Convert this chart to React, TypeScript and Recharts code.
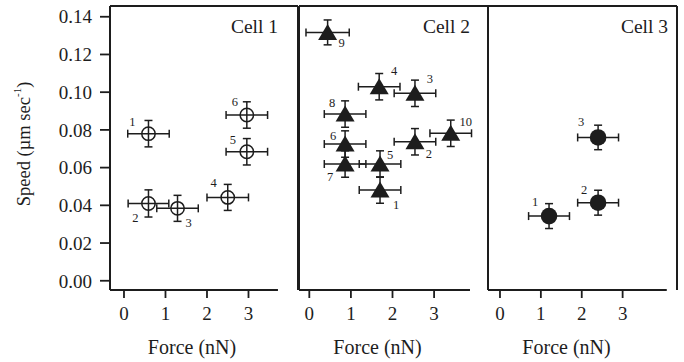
import React from 'react';
import { ScatterChart, Scatter, XAxis, YAxis, ErrorBar, ReferenceLine } from 'recharts';

const FONT = '"Liberation Serif", "Times New Roman", serif';
const INK = '#1d1d1d';

const SPEED_TICKS = [0, 0.02, 0.04, 0.06, 0.08, 0.1, 0.12, 0.14];
const FORCE_TICKS = [0, 1, 2, 3];
const Y_DOMAIN: [number, number] = [-0.0049, 0.1457];

// Cell 1 - open circles
const cell1Ids = ['1', '2', '3', '4', '5', '6'];
const cell1Force = [0.59, 0.59, 1.29, 2.5, 2.96, 2.96];
const cell1Speed = [0.078, 0.041, 0.0384, 0.0442, 0.0684, 0.0879];
const cell1ForceErr = [0.5, 0.49, 0.5, 0.5, 0.5, 0.5];
const cell1SpeedErr = [0.007, 0.0072, 0.0069, 0.0069, 0.007, 0.007];

// Cell 2 - filled triangles
const cell2Ids = ['1', '2', '3', '4', '5', '6', '7', '8', '9', '10'];
const cell2Force = [1.7, 2.54, 2.54, 1.68, 1.7, 0.86, 0.86, 0.86, 0.44, 3.4];
const cell2Speed = [0.0481, 0.0737, 0.0994, 0.1029, 0.0619, 0.0725, 0.0619, 0.0884, 0.1317, 0.0782];
const cell2ForceErr = [0.5, 0.5, 0.5, 0.5, 0.5, 0.5, 0.5, 0.5, 0.52, 0.5];
const cell2SpeedErr = [0.007, 0.007, 0.007, 0.007, 0.007, 0.007, 0.007, 0.007, 0.0066, 0.007];

// Cell 3 - filled circles
const cell3Ids = ['1', '2', '3'];
const cell3Force = [1.2, 2.4, 2.4];
const cell3Speed = [0.0343, 0.0414, 0.076];
const cell3ForceErr = [0.5, 0.5, 0.5];
const cell3SpeedErr = [0.0066, 0.0066, 0.0065];

// where each point's number sits relative to its marker (px)
const cell1LabelOffsets: [number, number][] = [[-16, -12], [-13, 15], [11, 15], [-14, -14], [-14, -12], [-12, -13]];
const cell2LabelOffsets: [number, number][] = [[16, 15], [14, 12], [15, -14], [15, -16], [10, -9], [-12, -8], [-15, 13], [-13, -11], [14, 11], [15, -11]];
const cell3LabelOffsets: [number, number][] = [[-14, -14], [-14, -13], [-17, -15]];

type Pt = { id: string; force: number; speed: number; fErr: number; sErr: number; off: [number, number] };

const build = (ids: string[], f: number[], s: number[], fe: number[], se: number[], offs: [number, number][]): Pt[] =>
  ids.map((id, i) => ({ id, force: f[i], speed: s[i], fErr: fe[i], sErr: se[i], off: offs[i] }));

const numLabel = (p: any) => (
  <text
    x={p.cx + p.payload.off[0]}
    y={p.cy + p.payload.off[1]}
    textAnchor="middle"
    dominantBaseline="central"
    fontSize={12.5}
    fontFamily={FONT}
    fill={INK}
  >
    {p.payload.id}
  </text>
);

const openCircle = (p: any) => (
  <g>
    <circle cx={p.cx} cy={p.cy} r={6.7} fill="none" stroke={INK} strokeWidth={1.5} />
    {numLabel(p)}
  </g>
);

const triangle = (p: any) => (
  <g>
    <path d={`M${p.cx},${p.cy - 8.5} L${p.cx + 9.5},${p.cy + 7.5} L${p.cx - 9.5},${p.cy + 7.5} Z`} fill={INK} />
    {numLabel(p)}
  </g>
);

const dot = (p: any) => (
  <g>
    <circle cx={p.cx} cy={p.cy} r={8.3} fill={INK} />
    {numLabel(p)}
  </g>
);

const speedLabel = () => (
  <text transform="translate(24,144) rotate(-90)" textAnchor="middle" dominantBaseline="central" fontSize={18.5} fontFamily={FONT} fill={INK}>
    Speed (µm sec
    <tspan fontSize={11} dy={-7}>-1</tspan>
    <tspan dy={7}>)</tspan>
  </text>
);

type PanelCfg = {
  left: number;
  width: number;
  yAxisWidth: number;
  marginRight: number;
  xDomain: [number, number];
  axisEnd: number;
  data: Pt[];
  marker: (p: any) => React.ReactElement;
  title: string;
  titleX: number;
  labelDx: number;
  showSpeedTicks: boolean;
};

function Panel({ cfg }: { cfg: PanelCfg }) {
  const line = { stroke: INK, strokeWidth: 2 };
  return (
    <div style={{ position: 'absolute', left: cfg.left, top: 0 }}>
      <ScatterChart width={cfg.width} height={362} margin={{ top: 6, right: cfg.marginRight, bottom: 6, left: 0 }}>
        <XAxis
          type="number"
          dataKey="force"
          domain={cfg.xDomain}
          allowDataOverflow
          ticks={FORCE_TICKS}
          axisLine={false}
          height={66}
          tickSize={8}
          tickMargin={9}
          tickLine={{ stroke: INK, strokeWidth: 1.8 }}
          tick={{ fontSize: 19, fill: INK, fontFamily: FONT }}
          label={{ value: 'Force (nN)', position: 'insideBottom', offset: 2, dx: cfg.labelDx, fontSize: 20, fill: INK, fontFamily: FONT }}
        />
        <YAxis
          type="number"
          dataKey="speed"
          domain={Y_DOMAIN}
          allowDataOverflow
          ticks={SPEED_TICKS}
          width={cfg.yAxisWidth}
          tickSize={10}
          tickMargin={8}
          axisLine={line}
          tickLine={{ stroke: INK, strokeWidth: 1.8 }}
          tick={cfg.showSpeedTicks ? { fontSize: 19, fill: INK, fontFamily: FONT } : false}
          tickFormatter={(v: number) => v.toFixed(2)}
          label={cfg.showSpeedTicks ? { content: speedLabel } : undefined}
        />
        <ReferenceLine y={Y_DOMAIN[1]} ifOverflow="visible" {...line} />
        <ReferenceLine x={cfg.xDomain[1]} ifOverflow="visible" {...line} />
        <ReferenceLine
          ifOverflow="visible"
          segment={[{ x: cfg.xDomain[0], y: Y_DOMAIN[0] }, { x: cfg.axisEnd, y: Y_DOMAIN[0] }]}
          {...line}
        />
        <Scatter data={cfg.data} shape={cfg.marker} isAnimationActive={false}>
          <ErrorBar dataKey="fErr" direction="x" width={4} stroke={INK} strokeWidth={1.5} isAnimationActive={false} />
          <ErrorBar dataKey="sErr" direction="y" width={4} stroke={INK} strokeWidth={1.5} isAnimationActive={false} />
        </Scatter>
        <text x={cfg.titleX} y={33} textAnchor="end" fontSize={19.5} fontFamily={FONT} fill={INK}>
          {cfg.title}
        </text>
      </ScatterChart>
    </div>
  );
}

const panels: PanelCfg[] = [
  {
    left: 0, width: 300, yAxisWidth: 110, marginRight: 2,
    xDomain: [-0.337, 4.193], axisEnd: 3.71,
    data: build(cell1Ids, cell1Force, cell1Speed, cell1ForceErr, cell1SpeedErr, cell1LabelOffsets),
    marker: openCircle, title: 'Cell 1', titleX: 278, labelDx: -12, showSpeedTicks: true,
  },
  {
    left: 280, width: 210, yAxisWidth: 19, marginRight: 2,
    xDomain: [-0.248, 4.296], axisEnd: 3.863,
    data: build(cell2Ids, cell2Force, cell2Speed, cell2ForceErr, cell2SpeedErr, cell2LabelOffsets),
    marker: triangle, title: 'Cell 2', titleX: 190, labelDx: -16, showSpeedTicks: false,
  },
  {
    left: 470, width: 210, yAxisWidth: 18, marginRight: 3,
    xDomain: [-0.293, 4.33], axisEnd: 4.08,
    data: build(cell3Ids, cell3Force, cell3Speed, cell3ForceErr, cell3SpeedErr, cell3LabelOffsets),
    marker: dot, title: 'Cell 3', titleX: 198, labelDx: -16, showSpeedTicks: false,
  },
];

export default function App() {
  return (
    <div style={{ position: 'absolute', left: 0, top: 0, width: 684, height: 362, background: '#fff' }}>
      {panels.map((cfg) => (
        <Panel key={cfg.title} cfg={cfg} />
      ))}
    </div>
  );
}
